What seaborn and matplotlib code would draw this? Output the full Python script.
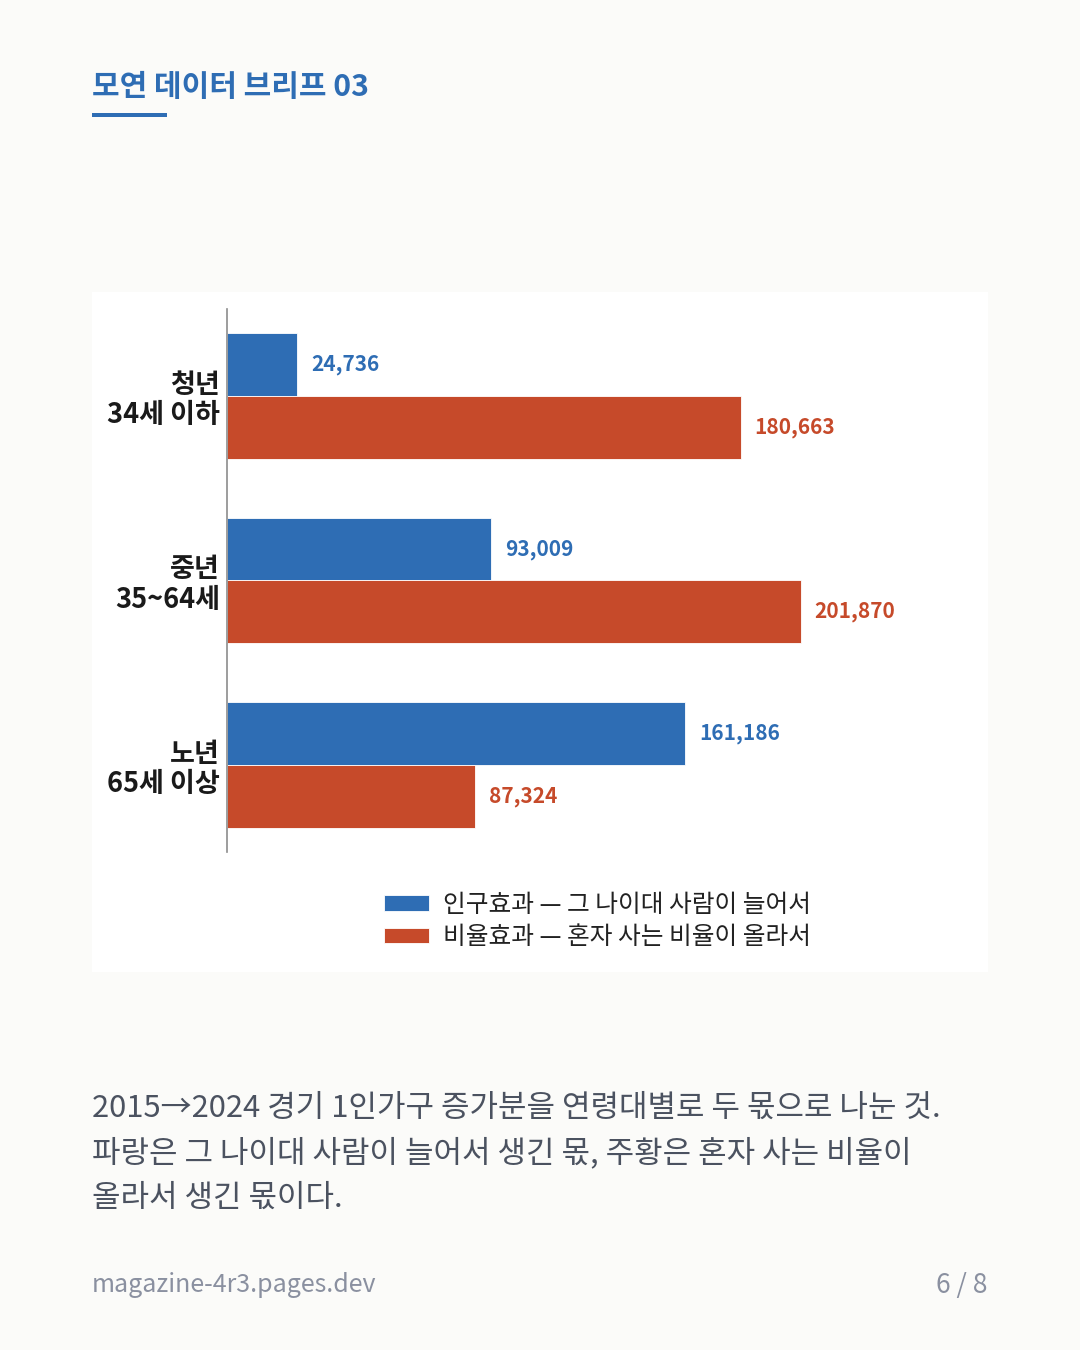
import matplotlib
matplotlib.use("Agg")
import matplotlib.pyplot as plt
from matplotlib.patches import Rectangle
import numpy as np
import pandas as pd
import seaborn as sns

sns.set_theme(style="white")
plt.rcParams['font.family'] = ['Noto Sans CJK KR', 'DejaVu Sans']

# data
groups = ["청년\n34세 이하", "중년\n35~64세", "노년\n65세 이상"]
effects = ["인구효과 — 그 나이대 사람이 늘어서", "비율효과 — 혼자 사는 비율이 올라서"]
pop_effect = [24736, 93009, 161186]
rate_effect = [180663, 201870, 87324]

blue = '#2E6DB4'
red = '#C64A2A'
bg = '#FBFBF9'

df = pd.DataFrame({
    "group": groups * 2,
    "effect": [effects[0]] * 3 + [effects[1]] * 3,
    "value": pop_effect + rate_effect,
})

fig = plt.figure(figsize=(10.8, 13.5), dpi=100)
fig.patch.set_facecolor(bg)

# white card behind the chart
fig.patches.append(Rectangle((92 / 1080, 1 - 972 / 1350), 896 / 1080, 680 / 1350,
                             transform=fig.transFigure, facecolor='white',
                             edgecolor='none', zorder=-5))

ax = fig.add_axes([227 / 1080, 1 - 852 / 1350, 746 / 1080, 543 / 1350])
ax.set_facecolor('none')

sns.barplot(data=df, y="group", x="value", hue="effect", orient="h",
            palette=[blue, red], width=0.68, ax=ax, edgecolor='white',
            linewidth=0.6, saturation=1)

ax.set_xlim(0, max(rate_effect) * 1.3)
ax.set_ylim(2.47, -0.47)
ax.set_xlabel("")
ax.set_ylabel("")
ax.set_xticks([])
for s in ['top', 'right', 'bottom']:
    ax.spines[s].set_visible(False)
ax.spines['left'].set_color('#8C8C8C')
ax.spines['left'].set_linewidth(1.2)
ax.tick_params(axis='y', length=0, pad=5)
for lbl in ax.get_yticklabels():
    lbl.set_fontsize(19.5)
    lbl.set_fontweight('bold')
    lbl.set_color('#1A1A1A')
    lbl.set_linespacing(1.1)

for cont, col, vals in zip(ax.containers, [blue, red], [pop_effect, rate_effect]):
    ax.bar_label(cont, labels=[f"{v:,}" for v in vals], padding=10,
                 color=col, fontsize=15, fontweight='bold')

handles, labels = ax.get_legend_handles_labels()
ax.legend(handles, labels, loc='upper left',
          bbox_to_anchor=(384 / 1080, 1 - 892 / 1350), bbox_transform=fig.transFigure,
          frameon=False, fontsize=17.8, handlelength=1.8, handleheight=0.6,
          handletextpad=0.6, labelspacing=0.25, borderpad=0, borderaxespad=0,
          labelcolor='#222222')

# header
fig.text(92 / 1080, 1 - 87 / 1350, "모연 데이터 브리프 03", fontsize=21.6,
         fontweight='bold', color=blue, va='center', ha='left')
fig.patches.append(Rectangle((92 / 1080, 1 - 117 / 1350), 75 / 1080, 4 / 1350,
                             transform=fig.transFigure, facecolor=blue,
                             edgecolor='none'))

# caption
caption = ["2015→2024 경기 1인가구 증가분을 연령대별로 두 몫으로 나눈 것.",
           "파랑은 그 나이대 사람이 늘어서 생긴 몫, 주황은 혼자 사는 비율이",
           "올라서 생긴 몫이다."]
for i, line in enumerate(caption):
    fig.text(92 / 1080, 1 - (1108 + 45 * i) / 1350, line, fontsize=22.3,
             color='#4B5260', va='center', ha='left')

# footer
fig.text(92 / 1080, 1 - 1285 / 1350, "magazine-4r3.pages.dev", fontsize=18,
         color='#8A90A0', va='center', ha='left')
fig.text(988 / 1080, 1 - 1285 / 1350, "6 / 8", fontsize=19,
         color='#8A90A0', va='center', ha='right')

fig.savefig("out.png", dpi=100, facecolor=bg)
